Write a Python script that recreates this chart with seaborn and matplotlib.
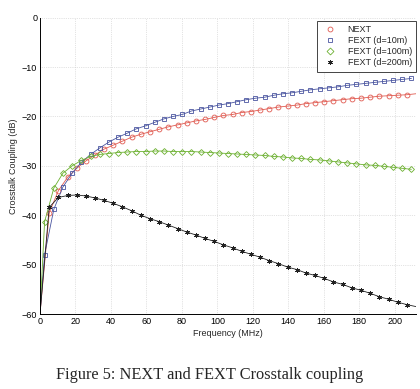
import numpy as np
import pandas as pd
from matplotlib import pyplot as plt
from matplotlib.lines import Line2D
import seaborn as sns

# sample frequencies (MHz) where the markers sit
freq_a = [0, 2.6, 7.8, 12.9, 18.1, 23.3, 28.5, 33.6, 38.8, 44.0, 49.1, 54.3, 59.5, 64.6, 69.8,
          75.0, 80.2, 85.3, 90.5, 95.7, 100.8, 106.0, 111.2, 116.3, 121.5, 126.7, 131.9,
          137.0, 142.2, 147.4, 152.5, 157.7, 162.9, 168.0, 173.2, 178.4, 183.6, 188.7,
          193.9, 199.1, 204.2, 209.4]
freq_b = [0, 5.2, 10.4, 15.6, 20.7, 25.9, 31.0, 36.2, 41.4, 46.5, 51.7, 56.9, 62.0, 67.2,
          72.4, 77.6, 82.7, 87.9, 93.1, 98.2, 103.4, 108.6, 113.7, 118.9, 124.1, 129.3,
          134.4, 139.6, 144.8, 149.9, 155.1, 160.3, 165.4, 170.6, 175.8, 181.0, 186.1,
          191.3, 196.5, 201.6, 206.8, 212.0]

next_db = [-60, -39.5, -35.0, -32.3, -30.5, -29.0, -27.8, -26.6, -25.8, -25.0, -24.2, -23.6,
           -23.1, -22.6, -22.1, -21.7, -21.3, -20.9, -20.6, -20.2, -19.8, -19.6, -19.2,
           -19.0, -18.7, -18.4, -18.1, -17.9, -17.7, -17.4, -17.2, -17.0, -16.8, -16.6,
           -16.4, -16.3, -16.1, -15.9, -15.8, -15.7, -15.6, -15.4]
fext10_db = [-60, -48.0, -38.8, -34.3, -31.5, -29.3, -27.7, -26.4, -25.2, -24.2, -23.4, -22.5,
             -21.9, -21.2, -20.5, -20.0, -19.6, -18.9, -18.5, -18.1, -17.7, -17.4, -17.0,
             -16.6, -16.3, -16.1, -15.7, -15.4, -15.2, -14.9, -14.6, -14.4, -14.2, -14.0,
             -13.7, -13.5, -13.3, -13.1, -12.9, -12.7, -12.5, -12.3]
fext100_db = [-60, -41.3, -34.5, -31.5, -30.0, -28.9, -28.1, -27.7, -27.5, -27.3, -27.2, -27.1,
              -27.1, -27.0, -27.0, -27.1, -27.1, -27.1, -27.2, -27.3, -27.4, -27.5, -27.6,
              -27.7, -27.8, -27.9, -28.1, -28.2, -28.4, -28.5, -28.7, -28.8, -29.0, -29.2,
              -29.4, -29.6, -29.8, -29.9, -30.1, -30.3, -30.5, -30.7]
fext200_db = [-60, -38.4, -36.4, -36.0, -35.9, -36.1, -36.5, -37.0, -37.6, -38.3, -39.1, -40.0,
              -40.7, -41.3, -42.0, -42.7, -43.4, -44.0, -44.7, -45.3, -46.0, -46.6, -47.3,
              -47.9, -48.5, -49.2, -49.8, -50.5, -51.0, -51.7, -52.2, -52.8, -53.5, -54.0,
              -54.7, -55.2, -55.8, -56.5, -57.0, -57.6, -58.1, -58.5]

labels = ['NEXT', 'FEXT (d=10m)', 'FEXT (d=100m)', 'FEXT (d=200m)']
colors = ['#e05a50', '#4a55a0', '#6cb030', '#222222']
markers = ['o', 's', 'D', (6, 2, 0)]

sns.set_style('white')
plt.rcParams['font.family'] = ['Liberation Sans', 'DejaVu Sans']

fig = plt.figure(figsize=(4.2, 3.89), dpi=100)
ax = fig.add_axes([0.0952, 0.1928, 0.8953, 0.7617])

series = [(freq_b, next_db), (freq_a, fext10_db), (freq_a, fext100_db), (freq_b, fext200_db)]
for (f, v), lab, c, m in zip(series, labels, colors, markers):
    ms = 3.0 if m == 'D' else 3.5
    # no marker on the start point or on a point sitting on the right edge
    every = slice(1, -1) if f[-1] >= 212 else slice(1, None)
    sns.lineplot(x=f, y=v, ax=ax, color=c, lw=0.6, marker=m, markersize=ms,
                 markerfacecolor='none', markeredgecolor=c, markeredgewidth=0.6,
                 markevery=every, sort=False, estimator=None)

ax.set_xlim(0, 212)
ax.set_ylim(-60, 0)
ax.set_xticks(range(0, 201, 20))
ax.set_yticks(range(-60, 1, 10))
ax.tick_params(direction='in', length=3, width=0.6, labelsize=6.5, pad=2, colors='black')
ax.grid(True, ls=':', lw=0.5, color='#c8c8c8')
for s in ['top', 'right']:
    ax.spines[s].set_visible(False)
for s in ['left', 'bottom']:
    ax.spines[s].set_color('black')
    ax.spines[s].set_linewidth(0.7)
ax.set_xlabel('Frequency (MHz)', fontsize=6.5, labelpad=2)
ax.set_ylabel('Crosstalk Coupling (dB)', fontsize=6.5, labelpad=3)

handles = [Line2D([], [], ls='none', marker=m, color=c, markerfacecolor='none',
                  markersize=3.5, markeredgewidth=0.6) for m, c in zip(markers, colors)]
leg = ax.legend(handles, labels, loc='upper right', bbox_to_anchor=(1.0, 0.99),
                borderaxespad=0, fontsize=6.5, fancybox=False, framealpha=1,
                handlelength=2.0, handletextpad=1.0, labelspacing=0.25, borderpad=0.45)
leg.get_frame().set_edgecolor('#444444')
leg.get_frame().set_linewidth(0.7)

fig.text(0.5, 0.015, 'Figure 5: NEXT and FEXT Crosstalk coupling',
         ha='center', va='bottom', fontsize=11.8, family=['Liberation Serif', 'DejaVu Serif'])

fig.savefig('out.png', dpi=100)
